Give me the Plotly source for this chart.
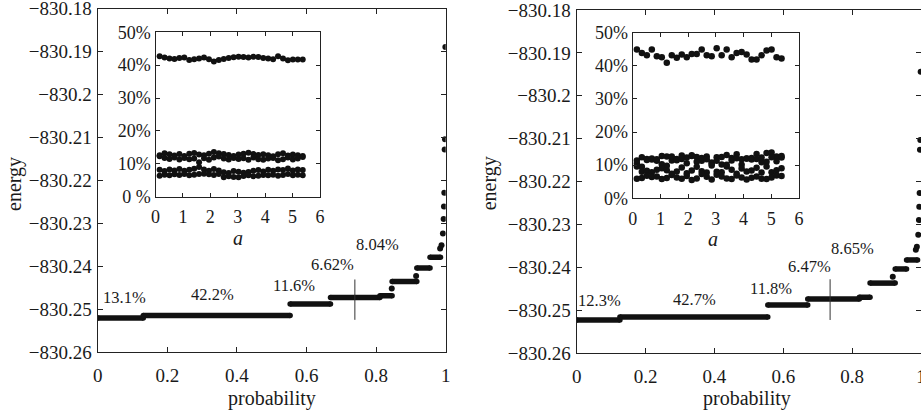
import plotly.graph_objects as go

# ---------------- data ----------------
x_ticks = [0, 0.2, 0.4, 0.6, 0.8, 1]
x_tick_text = ["0", "0.2", "0.4", "0.6", "0.8", "1"]
y_ticks = [-830.26, -830.25, -830.24, -830.23, -830.22, -830.21, -830.2, -830.19, -830.18]
y_tick_text = ["\u2212830.26", "\u2212830.25", "\u2212830.24", "\u2212830.23", "\u2212830.22",
               "\u2212830.21", "\u2212830.2", "\u2212830.19", "\u2212830.18"]

# left panel: energy plateaus (cumulative probability start/end)
L_step_start = [0.0, 0.131, 0.553, 0.669, 0.811, 0.846, 0.917, 0.955]
L_step_end = [0.131, 0.553, 0.669, 0.811, 0.846, 0.917, 0.955, 0.985]
L_step_energy = [-830.2521, -830.2515, -830.2488, -830.2473, -830.2469, -830.2436, -830.2404, -830.2379]
L_pt_x = [0.845, 0.915, 0.984, 0.988, 0.992, 0.994, 0.995, 0.996, 0.997, 0.998, 0.999]
L_pt_e = [-830.2452, -830.2423, -830.2359, -830.2351, -830.2324, -830.2290, -830.2261,
          -830.2229, -830.2128, -830.2104, -830.1889]
L_cross_x = 0.739
L_cross_y = [-830.2431, -830.2525]
L_labels = ["13.1%", "42.2%", "11.6%", "6.62%", "8.04%"]
L_label_x = [0.0756, 0.331, 0.564, 0.676, 0.805]
L_label_y = [-830.2474, -830.2467, -830.2446, -830.2395, -830.2349]

# right panel
R_step_start = [0.0, 0.1255, 0.555, 0.671, 0.821, 0.852, 0.925, 0.958]
R_step_end = [0.1255, 0.555, 0.671, 0.821, 0.852, 0.925, 0.958, 0.99]
R_step_energy = [-830.2523, -830.2516, -830.2488, -830.2474, -830.2470, -830.2437, -830.2404, -830.2383]
R_pt_x = [0.918, 0.985, 0.988, 0.992, 0.994, 0.995, 0.996, 0.997, 0.998, 0.999]
R_pt_e = [-830.2422, -830.2359, -830.2352, -830.2324, -830.2290, -830.2259, -830.2227,
          -830.2126, -830.2103, -830.1944]
R_cross_x = 0.736
R_cross_y = [-830.2428, -830.2523]
R_labels = ["12.3%", "42.7%", "11.8%", "6.47%", "8.65%"]
R_label_x = [0.0675, 0.343, 0.565, 0.676, 0.802]
R_label_y = [-830.2478, -830.2476, -830.2449, -830.2398, -830.2356]

# insets: occupation (%) vs a
a_vals = [0.15, 0.33, 0.51, 0.69, 0.87, 1.05, 1.23, 1.41, 1.59, 1.77, 1.95, 2.13, 2.31, 2.49, 2.67,
          2.85, 3.03, 3.21, 3.39, 3.57, 3.75, 3.93, 4.11, 4.29, 4.47, 4.65, 4.83, 5.01, 5.19, 5.37]
inset_x_ticks = [0, 1, 2, 3, 4, 5, 6]
inset_y_ticks = [0, 10, 20, 30, 40, 50]
L_inset_y_text = ["0 %", "10%", "20%", "30%", "40%", "50%"]
R_inset_y_text = ["0%", "10%", "20%", "30%", "40%", "50%"]

L_s2 = [42.7, 42.3, 42.0, 41.9, 42.2, 42.3, 41.6, 41.8, 42.0, 42.3, 41.8, 41.1, 41.6, 41.9, 42.2,
        42.4, 42.6, 42.5, 42.3, 42.6, 42.5, 42.2, 42.0, 41.8, 42.7, 42.0, 41.5, 41.7, 41.7, 41.7]
L_s1 = [12.6, 13.2, 12.9, 12.5, 13.0, 12.4, 13.1, 13.3, 12.8, 12.6, 13.1, 13.6, 13.2, 13.0, 12.7,
        12.4, 12.8, 13.1, 13.4, 13.0, 12.7, 12.9, 12.6, 12.3, 12.9, 13.2, 12.5, 12.8, 12.6, 12.4]
L_s3 = [12.3, 11.8, 11.5, 11.9, 11.3, 11.8, 11.4, 11.6, 10.5, 11.7, 11.2, 11.9, 12.2, 11.6, 11.3,
        11.8, 11.5, 11.7, 11.2, 11.9, 11.4, 11.2, 11.6, 11.8, 11.1, 11.4, 11.9, 11.3, 11.6, 12.1]
L_s5 = [8.2, 7.8, 8.3, 8.0, 8.4, 7.9, 8.2, 8.5, 9.0, 8.3, 7.9, 8.4, 8.0, 7.4, 7.2,
        7.8, 7.6, 7.3, 7.5, 7.9, 8.1, 7.7, 8.2, 7.9, 8.3, 8.1, 8.6, 8.0, 8.3, 8.1]
L_s4 = [6.4, 6.7, 6.5, 6.8, 6.6, 6.9, 6.5, 6.7, 6.9, 7.0, 6.8, 6.6, 6.9, 5.9, 6.2,
        6.0, 5.9, 6.3, 6.5, 6.2, 6.4, 6.6, 6.5, 6.7, 6.4, 6.6, 6.9, 6.5, 6.7, 6.5]

R_s2 = [44.9, 43.9, 43.2, 44.9, 42.9, 42.6, 40.9, 43.2, 42.4, 43.4, 42.6, 43.6, 43.6, 44.9, 43.2,
        42.9, 45.3, 43.2, 44.9, 42.6, 43.9, 44.2, 43.4, 41.9, 41.9, 43.2, 44.6, 44.9, 42.6, 42.2]
R_s1 = [10.5, 12.4, 11.9, 11.7, 11.3, 12.8, 12.6, 11.4, 11.9, 12.9, 12.3, 13.0, 12.5, 11.3, 12.6,
        10.8, 12.4, 10.2, 13.1, 12.2, 13.3, 11.8, 12.0, 12.2, 13.4, 10.9, 13.7, 13.8, 12.6, 12.3]
R_s3 = [11.4, 9.5, 11.6, 12.0, 11.8, 10.3, 9.8, 12.6, 11.5, 11.9, 10.6, 12.8, 11.0, 12.2, 11.8,
        10.4, 11.3, 12.5, 9.6, 11.4, 12.1, 10.1, 12.0, 11.7, 11.9, 12.3, 11.0, 12.4, 11.2, 12.8]
R_s5 = [9.6, 8.0, 8.3, 7.9, 8.6, 9.1, 8.5, 7.4, 8.1, 9.3, 7.6, 8.4, 9.5, 8.2, 7.8,
        9.9, 8.0, 7.9, 10.1, 8.6, 7.4, 9.0, 8.1, 8.4, 9.2, 7.8, 9.6, 7.9, 8.5, 9.1]
R_s4 = [5.9, 6.1, 6.8, 6.4, 6.6, 5.8, 6.1, 7.0, 6.3, 5.9, 6.7, 5.5, 6.0, 7.3, 6.5,
        5.7, 7.1, 6.6, 6.0, 5.8, 6.9, 6.3, 5.7, 6.2, 6.6, 5.9, 5.8, 6.3, 6.9, 6.7]

# ---------------- style ----------------
W, H = 921, 415
FONT = "Liberation Serif"
TXT = "#1a1a1a"
DOT = "#111111"

fig = go.Figure()


def add_steps(starts, ends, energies, xa, ya):
    xs, ys = [], []
    for s, e, en in zip(starts, ends, energies):
        xs += [s, e, None]
        ys += [en, en, None]
    fig.add_trace(go.Scatter(x=xs, y=ys, mode="lines+markers", xaxis=xa, yaxis=ya,
                             line=dict(color=DOT, width=5.5),
                             marker=dict(color=DOT, size=5.5), hoverinfo="skip",
                             showlegend=False))


def add_points(px, pe, xa, ya):
    fig.add_trace(go.Scatter(x=px, y=pe, mode="markers", xaxis=xa, yaxis=ya,
                             marker=dict(color=DOT, size=6), showlegend=False))


def add_cross(cx, cy, xa, ya):
    fig.add_trace(go.Scatter(x=[cx, cx], y=cy, mode="lines", xaxis=xa, yaxis=ya,
                             line=dict(color="#333333", width=1), showlegend=False))


add_steps(L_step_start, L_step_end, L_step_energy, "x", "y")
add_points(L_pt_x, L_pt_e, "x", "y")
add_cross(L_cross_x, L_cross_y, "x", "y")
add_steps(R_step_start, R_step_end, R_step_energy, "x2", "y2")
add_points(R_pt_x, R_pt_e, "x2", "y2")
add_cross(R_cross_x, R_cross_y, "x2", "y2")

for s in [L_s2, L_s1, L_s3, L_s5, L_s4]:
    fig.add_trace(go.Scatter(x=a_vals, y=s, mode="markers", xaxis="x3", yaxis="y3",
                             marker=dict(color=DOT, size=6), showlegend=False))
for s in [R_s2, R_s1, R_s3, R_s5, R_s4]:
    fig.add_trace(go.Scatter(x=a_vals, y=s, mode="markers", xaxis="x4", yaxis="y4",
                             marker=dict(color=DOT, size=6.5), showlegend=False))

axis_common = dict(showgrid=False, zeroline=False, showline=True, mirror="ticks",
                   linecolor="#222222", linewidth=1.3, ticks="inside", ticklen=5,
                   tickcolor="#222222", tickwidth=1, automargin=False,
                   ticklabeloverflow="allow",
                   tickfont=dict(family=FONT, size=19, color=TXT))
inset_font = dict(family=FONT, size=18, color=TXT)


def px_x(p):
    return p / W


def px_y(p):
    return 1 - p / H


fig.update_layout(
    width=W, height=H, margin=dict(l=0, r=0, t=0, b=0, autoexpand=False),
    paper_bgcolor="white", plot_bgcolor="white",
    font=dict(family=FONT),
    xaxis=dict(axis_common, domain=[px_x(97.7), px_x(445.7)], range=[0, 1], anchor="y",
               tickvals=x_ticks, ticktext=x_tick_text, ticklabelstandoff=6),
    yaxis=dict(axis_common, domain=[px_y(352), px_y(8.7)], range=[-830.26, -830.18], anchor="x",
               tickvals=y_ticks, ticktext=y_tick_text, ticklabelstandoff=1),
    xaxis2=dict(axis_common, domain=[px_x(576.7), 1.0], range=[0, 1], anchor="y2",
                tickvals=x_ticks, ticktext=x_tick_text, ticklabelstandoff=6),
    yaxis2=dict(axis_common, domain=[px_y(353), px_y(10)], range=[-830.26, -830.18], anchor="x2",
                tickvals=y_ticks, ticktext=y_tick_text, ticklabelstandoff=1),
    xaxis3=dict(axis_common, domain=[px_x(155.5), px_x(320)], range=[0, 6], anchor="y3",
                tickvals=inset_x_ticks, ticklen=4, ticklabelstandoff=4, tickfont=inset_font),
    yaxis3=dict(axis_common, domain=[px_y(196.7), px_y(32.3)], range=[0, 50], anchor="x3",
                tickvals=inset_y_ticks, ticktext=L_inset_y_text, ticklen=4, tickfont=inset_font),
    xaxis4=dict(axis_common, domain=[px_x(632.7), px_x(799)], range=[0, 6], anchor="y4",
                tickvals=inset_x_ticks, ticklen=4, ticklabelstandoff=4, tickfont=inset_font),
    yaxis4=dict(axis_common, domain=[px_y(198.3), px_y(32.7)], range=[0, 50], anchor="x4",
                tickvals=inset_y_ticks, ticktext=R_inset_y_text, ticklen=4, tickfont=inset_font),
)

ann = []
for t, x, y in zip(L_labels, L_label_x, L_label_y):
    ann.append(dict(text=t, x=x, y=y, xref="x", yref="y", showarrow=False,
                    font=dict(family=FONT, size=16.5, color=TXT)))
for t, x, y in zip(R_labels, R_label_x, R_label_y):
    ann.append(dict(text=t, x=x, y=y, xref="x2", yref="y2", showarrow=False,
                    font=dict(family=FONT, size=16.5, color=TXT)))

titles = [
    ("energy", 15, 184, -90, False),
    ("probability", 271.7, 398, 0, False),
    ("a", 237.5, 238, 0, True),
    ("energy", 489.3, 183, -90, False),
    ("probability", 746.7, 398, 0, False),
    ("a", 713.3, 239.3, 0, True),
]
for t, x, y, ang, ital in titles:
    ann.append(dict(text=("<i>%s</i>" % t) if ital else t, x=px_x(x), y=px_y(y),
                    xref="paper", yref="paper", showarrow=False, textangle=ang,
                    xanchor="center", yanchor="middle",
                    font=dict(family=FONT, size=20, color=TXT)))
fig.update_layout(annotations=ann)

fig.write_html("out.html")
